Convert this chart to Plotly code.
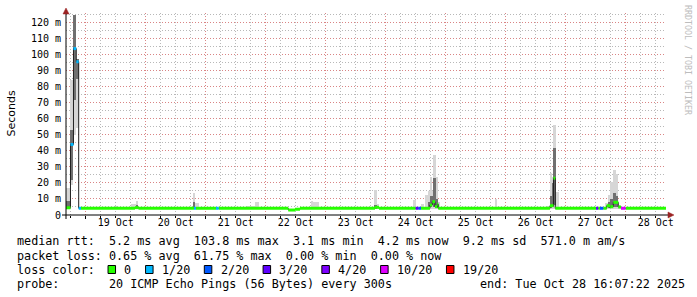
import pandas as pd
import plotly.graph_objects as go

# ---------------- data ----------------
START = "2025-10-18 16:07:22"
END = "2025-10-28 16:07:22"

# median RTT (ms), step series: each value holds until the next time
med_time = [
    "2025-10-18 16:07:22", "2025-10-18 17:55", "2025-10-18 19:07", "2025-10-18 20:14",
    "2025-10-18 21:12", "2025-10-18 22:07", "2025-10-19 19:43", "2025-10-19 21:07",
    "2025-10-20 19:19", "2025-10-20 20:07", "2025-10-21 04:07", "2025-10-21 05:12",
    "2025-10-22 09:02", "2025-10-22 11:43", "2025-10-22 13:43", "2025-10-23 19:43",
    "2025-10-23 21:19", "2025-10-24 12:00", "2025-10-24 13:02", "2025-10-24 14:07",
    "2025-10-24 17:43", "2025-10-24 18:38", "2025-10-24 19:43", "2025-10-24 20:38",
    "2025-10-24 21:02", "2025-10-26 17:43", "2025-10-26 19:07", "2025-10-26 19:50",
    "2025-10-27 12:07", "2025-10-27 13:02", "2025-10-27 13:43", "2025-10-27 15:02",
    "2025-10-27 16:24", "2025-10-27 17:43", "2025-10-27 17:50", "2025-10-27 19:02",
    "2025-10-27 21:02", "2025-10-27 22:07", "2025-10-28 00:00",
]
med_val = [
    4.5, 44.0, 103.8, 95.6,
    4.2, 4.2, 4.6, 4.2,
    4.2, 4.2, 4.2, 4.2,
    3.1, 3.6, 4.2, 4.8,
    4.2, 4.2, 4.2, 4.2,
    6.2, 8.3, 5.2, 6.7,
    4.2, 5.8, 23.0, 4.2,
    4.2, 4.2, 4.2, 4.2,
    5.8, 4.6, 5.2, 7.9,
    5.0, 4.2, 4.2,
]
# loss bucket index per step (into loss_labels)
med_loss = [
    0, 1, 1, 1,
    1, 0, 0, 0,
    1, 0, 1, 0,
    0, 0, 0, 0,
    0, 3, 2, 0,
    0, 0, 0, 0,
    0, 0, 0, 0,
    3, 0, 2, 0,
    0, 0, 0, 0,
    0, 5, 0,
]

# smoke (ping spread), ms
smoke_start = [
    "2025-10-18 16:07", "2025-10-18 17:43", "2025-10-18 19:02", "2025-10-18 20:07",
    "2025-10-19 12:07", "2025-10-19 18:19", "2025-10-19 20:07", "2025-10-20 19:19",
    "2025-10-20 19:55", "2025-10-21 16:24", "2025-10-21 19:43", "2025-10-22 18:00",
    "2025-10-22 19:07", "2025-10-23 19:19", "2025-10-23 20:24", "2025-10-24 10:55",
    "2025-10-24 14:07", "2025-10-24 15:43", "2025-10-24 16:48", "2025-10-24 17:43",
    "2025-10-24 18:38", "2025-10-24 19:02", "2025-10-24 20:00", "2025-10-24 21:02",
    "2025-10-25 20:00", "2025-10-26 16:24", "2025-10-26 17:43", "2025-10-26 18:38",
    "2025-10-26 19:07", "2025-10-26 20:07", "2025-10-27 15:43", "2025-10-27 17:02",
    "2025-10-27 17:50", "2025-10-27 19:02", "2025-10-27 20:07", "2025-10-27 21:02",
]
smoke_end = [
    "2025-10-18 17:43", "2025-10-18 19:02", "2025-10-18 20:07", "2025-10-18 21:19",
    "2025-10-19 12:43", "2025-10-19 20:07", "2025-10-19 21:07", "2025-10-20 19:55",
    "2025-10-20 21:19", "2025-10-21 19:43", "2025-10-21 21:26", "2025-10-22 19:07",
    "2025-10-22 21:26", "2025-10-23 20:24", "2025-10-23 21:19", "2025-10-24 12:07",
    "2025-10-24 15:26", "2025-10-24 16:48", "2025-10-24 17:43", "2025-10-24 18:38",
    "2025-10-24 19:02", "2025-10-24 20:00", "2025-10-24 21:02", "2025-10-24 21:50",
    "2025-10-25 20:43", "2025-10-26 17:43", "2025-10-26 18:38", "2025-10-26 19:07",
    "2025-10-26 20:07", "2025-10-26 21:19", "2025-10-27 17:02", "2025-10-27 17:50",
    "2025-10-27 18:48", "2025-10-27 20:07", "2025-10-27 21:02", "2025-10-27 21:50",
]
smoke_lo = [
    3.5, 19, 50, 54, 4, 4, 4, 4, 4, 4, 4, 4, 4, 4, 4, 4, 4, 4,
    4, 4, 4, 4, 4, 4, 4, 4, 4, 4, 4, 4, 4, 4, 4, 4, 4, 4,
]
smoke_hi = [
    17, 84, 125, 97, 5.6, 7, 9, 14, 7.7, 5.6, 8.3, 8.7, 8, 15.6, 6.9, 9.4, 6.7, 12.5,
    15, 24, 15, 37.5, 24, 8.3, 10, 5.8, 26, 24, 56, 14.6, 7.3, 12.5, 20.8, 28, 25.4, 6.2,
]
core_lo = [
    4, 22, 72, 85, None, None, 4, 4, None, None, None, None, None, 4, None, None, None, None,
    4, 5, 6, 5, 4.5, None, None, None, 4.5, 5, 6, None, None, 4.5, 5, 5, 5, None,
]
core_hi = [
    9, 53, 125, 97, None, None, 6, 8, None, None, None, None, None, 6.2, None, None, None, None,
    8, 12, 12, 23, 10, None, None, None, 12, 20, 42, None, None, 8, 10, 14, 12, None,
]

loss_labels = ["0", "1/20", "2/20", "3/20", "4/20", "10/20", "19/20"]
loss_colors = ["#26ff00", "#00b8ff", "#0059ff", "#5e00ff", "#7e00ff", "#dd00ff", "#ff0000"]

day_midnights = ["2025-10-%02d" % d for d in range(19, 29)]
day_noons = ["2025-10-%02d 12:00" % d for d in range(19, 29)]
day_labels = ["%d Oct" % d for d in range(19, 29)]

y_ticks = [0, 10, 20, 30, 40, 50, 60, 70, 80, 90, 100, 110, 120]
y_labels = ["0"] + ["%d m" % v for v in y_ticks[1:]]

line_rtt = "median rtt:  5.2 ms avg  103.8 ms max  3.1 ms min  4.2 ms now  9.2 ms sd  571.0 m am/s"
line_loss = "packet loss: 0.65 % avg  61.75 % max  0.00 % min  0.00 % now"
line_color_head = "loss color:"
line_probe_head = "probe:"
line_probe = "20 ICMP Echo Pings (56 Bytes) every 300s"
line_end = "end: Tue Oct 28 16:07:22 2025"
watermark = "RRDTOOL / TOBI OETIKER"
y_title = "Seconds"

# ---------------- geometry ----------------
W, H = 697, 297
L, R, T, B = 66, 31, 13, 82
PW, PH = W - L - R, H - T - B
YMAX = 126.0
MONO = "DejaVu Sans Mono"


def px(xp):
    return (xp - L) / PW


def py(yp):
    return (T + PH - yp) / PH


fig = go.Figure()

# smoke
s = pd.to_datetime(pd.Series(smoke_start))
e = pd.to_datetime(pd.Series(smoke_end))
centers = s + (e - s) / 2
widths = (e - s).dt.total_seconds() * 1000.0
fig.add_trace(go.Bar(
    x=centers, y=[h - l for h, l in zip(smoke_hi, smoke_lo)], base=smoke_lo,
    width=widths, marker=dict(color="#d6d6d6", line=dict(width=0)),
    hoverinfo="skip", showlegend=False))
cx, cy, cb, cw_ = [], [], [], []
for c, w, lo, hi in zip(centers, widths, core_lo, core_hi):
    if lo is not None:
        cx.append(c); cy.append(hi - lo); cb.append(lo); cw_.append(w)
fig.add_trace(go.Bar(
    x=cx, y=cy, base=cb, width=cw_, marker=dict(color="#707070", line=dict(width=0)),
    hoverinfo="skip", showlegend=False))

# black median line
fig.add_trace(go.Scatter(
    x=med_time + [END], y=med_val + [med_val[-1]], mode="lines", line_shape="hv",
    line=dict(color="#202020", width=1), hoverinfo="skip", showlegend=False))

# loss coloured median bands
tt = med_time + [END]
for b, col in enumerate(loss_colors):
    xs, ys = [], []
    for i in range(len(med_time)):
        if med_loss[i] == b:
            xs += [tt[i], tt[i + 1], None]
            ys += [med_val[i], med_val[i], None]
    if xs:
        fig.add_trace(go.Scatter(x=xs, y=ys, mode="lines",
                                 line=dict(color=col, width=3), hoverinfo="skip",
                                 showlegend=False))

# dummy trace on overlay axis
fig.add_trace(go.Scatter(x=[START], y=[0], xaxis="x2", mode="markers",
                         marker=dict(opacity=0), hoverinfo="skip", showlegend=False))

MAJ = "#d98585"
MIN = "#b8b8b8"
DASH = "1px,2px"

fig.update_layout(
    width=W, height=H, margin=dict(l=L, r=R, t=T, b=B),
    paper_bgcolor="white", plot_bgcolor="white", barmode="overlay", bargap=0,
    showlegend=False,
    xaxis=dict(type="date", range=[START, END], tickvals=day_noons, ticktext=day_labels,
               showgrid=False, zeroline=False, ticks="", showline=False,
               tickfont=dict(family=MONO, size=10, color="#000")),
    xaxis2=dict(type="date", range=[START, END], overlaying="x", side="bottom",
                tickvals=day_midnights, showticklabels=False, showgrid=True,
                gridcolor=MAJ, griddash=DASH, gridwidth=1, zeroline=False,
                ticks="outside", ticklen=3, tickcolor="#000",
                minor=dict(tick0="2025-10-19", dtick=6 * 3600 * 1000, showgrid=True,
                           gridcolor=MIN, griddash=DASH, ticks="outside", ticklen=2,
                           tickcolor="#000")),
    yaxis=dict(range=[0, YMAX], tickvals=y_ticks, ticktext=y_labels, showgrid=True,
               gridcolor=MAJ, griddash=DASH, zeroline=False, ticks="", showline=False,
               ticklabelstandoff=4,
               tickfont=dict(family=MONO, size=10, color="#000"),
               minor=dict(dtick=5, showgrid=True, gridcolor=MIN, griddash=DASH)),
)

shapes = []
# axes
shapes.append(dict(type="line", xref="paper", yref="paper", x0=px(62), x1=px(670),
                   y0=0, y1=0, line=dict(color="#000", width=1)))
shapes.append(dict(type="line", xref="paper", yref="paper", x0=0, x1=0,
                   y0=py(219), y1=py(12), line=dict(color="#000", width=1)))
ARROW = "#9b2323"
shapes.append(dict(type="path", xref="paper", yref="paper",
                   path="M %f %f L %f %f L %f %f Z" % (px(668), py(212), px(674), py(215), px(668), py(218)),
                   fillcolor=ARROW, line=dict(color=ARROW, width=0.5)))
shapes.append(dict(type="path", xref="paper", yref="paper",
                   path="M %f %f L %f %f L %f %f Z" % (px(63), py(14), px(66), py(8), px(69), py(14)),
                   fillcolor=ARROW, line=dict(color=ARROW, width=0.5)))

annotations = []
CW = 7.08
FS = 11.75
X0 = 16


def ann(x, y, text, size=FS, family=MONO, color="#000", angle=0, xanchor="left"):
    annotations.append(dict(x=px(x), y=py(y), xref="paper", yref="paper", text=text.replace(" ", "\u00a0"),
                            showarrow=False, xanchor=xanchor, yanchor="middle", textangle=angle,
                            font=dict(family=family, size=size, color=color), borderpad=0))


ann(X0, 241.5, line_rtt)
ann(X0, 255.5, line_loss)
ann(X0, 269.5, line_color_head)
ann(X0, 283.5, line_probe_head)
ann(X0 + 13 * CW, 283.5, line_probe)
ann(478.5, 283.5, line_end)

idx = 13.0
for lab, col in zip(loss_labels, loss_colors):
    bx = X0 + CW * idx
    shapes.append(dict(type="rect", xref="paper", yref="paper", x0=px(bx), x1=px(bx + 7.5),
                       y0=py(273.5), y1=py(265.5), fillcolor=col,
                       line=dict(color="#000", width=1)))
    ann(bx + 2.15 * CW, 269.5, lab)
    idx += 2.15 + len(lab) + 2.15

annotations.append(dict(x=px(11), y=py(113.5), xref="paper", yref="paper", text=y_title,
                        showarrow=False, textangle=-90, xanchor="center", yanchor="middle",
                        font=dict(family="DejaVu Sans", size=11, color="#000")))
annotations.append(dict(x=px(688), y=py(60), xref="paper", yref="paper", text=watermark.replace(" ", "\u00a0"),
                        showarrow=False, textangle=90, xanchor="center", yanchor="middle",
                        font=dict(family=MONO, size=8.3, color="#bdbdbd")))

fig.update_layout(shapes=shapes, annotations=annotations)
fig.write_html("out.html")
